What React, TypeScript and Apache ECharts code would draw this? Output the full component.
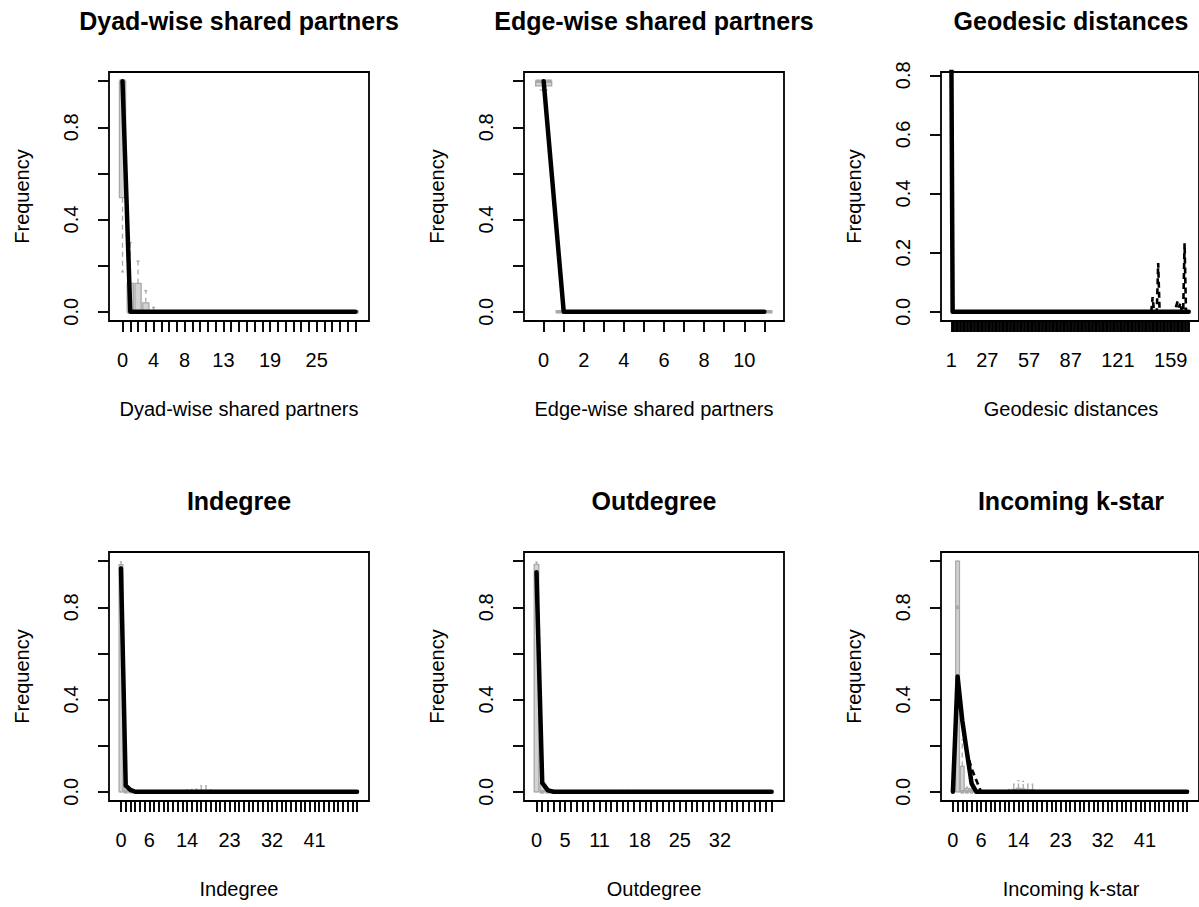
import React, { useEffect, useRef } from "react";
import * as echarts from "echarts";

const FONT = '"Liberation Sans", Arial, Helvetica, sans-serif';

// ---------------------------------------------------------------------------
// Data
// ---------------------------------------------------------------------------

function range(a: number, b: number): number[] {
  const out: number[] = [];
  for (let v = a; v <= b; v++) out.push(v);
  return out;
}

const panelTitles = [
  "Dyad-wise shared partners",
  "Edge-wise shared partners",
  "Geodesic distances",
  "Indegree",
  "Outdegree",
  "Incoming k-star",
];

// x categories (the category value is also its position on the axis)
const dspCategories = range(0, 30);
const espCategories = range(0, 11);
const geodesicCategories = range(1, 172);
const indegreeCategories = range(0, 50);
const outdegreeCategories = range(0, 41);
const kstarCategories = range(0, 50);

// category labels that are printed under the ticks
const dspTickLabels = [0, 4, 8, 13, 19, 25];
const espTickLabels = [0, 2, 4, 6, 8, 10];
const geodesicTickLabels = [1, 27, 57, 87, 121, 159];
const indegreeTickLabels = [0, 6, 14, 23, 32, 41];
const outdegreeTickLabels = [0, 5, 11, 18, 25, 32];
const kstarTickLabels = [0, 6, 14, 23, 32, 41];

// frequency axis ticks / labels
const freqTicks = [0, 0.2, 0.4, 0.6, 0.8, 1.0];
const freqLabels = [0, 0.4, 0.8];
const geoFreqTicks = [0, 0.2, 0.4, 0.6, 0.8];
const geoFreqLabels = [0, 0.2, 0.4, 0.6, 0.8];
const freqMax = 1.0;
const geoFreqMax = 0.78;

// observed network statistics (thick black line)
const dspObserved = [
  1.0, 0, 0, 0, 0, 0, 0, 0, 0, 0,
  0, 0, 0, 0, 0, 0, 0, 0, 0, 0,
  0, 0, 0, 0, 0, 0, 0, 0, 0, 0,
  0,
];
const espObserved = [1.0, 0, 0, 0, 0, 0, 0, 0, 0, 0, 0, 0];
const geodesicObserved = [
  0.95, 0, 0, 0, 0, 0, 0, 0, 0, 0,
  0, 0, 0, 0, 0, 0, 0, 0, 0, 0,
  0, 0, 0, 0, 0, 0, 0, 0, 0, 0,
  0, 0, 0, 0, 0, 0, 0, 0, 0, 0,
  0, 0, 0, 0, 0, 0, 0, 0, 0, 0,
  0, 0, 0, 0, 0, 0, 0, 0, 0, 0,
  0, 0, 0, 0, 0, 0, 0, 0, 0, 0,
  0, 0, 0, 0, 0, 0, 0, 0, 0, 0,
  0, 0, 0, 0, 0, 0, 0, 0, 0, 0,
  0, 0, 0, 0, 0, 0, 0, 0, 0, 0,
  0, 0, 0, 0, 0, 0, 0, 0, 0, 0,
  0, 0, 0, 0, 0, 0, 0, 0, 0, 0,
  0, 0, 0, 0, 0, 0, 0, 0, 0, 0,
  0, 0, 0, 0, 0, 0, 0, 0, 0, 0,
  0, 0, 0, 0, 0, 0, 0, 0, 0, 0,
  0, 0, 0, 0, 0, 0, 0, 0, 0, 0,
  0, 0, 0, 0, 0, 0, 0, 0, 0, 0,
  0, 0,
];
const indegreeObserved = [
  0.968, 0.027, 0.008, 0, 0, 0, 0, 0, 0, 0,
  0, 0, 0, 0, 0, 0, 0, 0, 0, 0,
  0, 0, 0, 0, 0, 0, 0, 0, 0, 0,
  0, 0, 0, 0, 0, 0, 0, 0, 0, 0,
  0, 0, 0, 0, 0, 0, 0, 0, 0, 0,
  0,
];
const outdegreeObserved = [
  0.952, 0.039, 0.006, 0, 0, 0, 0, 0, 0, 0,
  0, 0, 0, 0, 0, 0, 0, 0, 0, 0,
  0, 0, 0, 0, 0, 0, 0, 0, 0, 0,
  0, 0, 0, 0, 0, 0, 0, 0, 0, 0,
  0, 0,
];
const kstarObserved = [
  0, 0.5, 0.31, 0.17, 0.035, 0, 0, 0, 0, 0,
  0, 0, 0, 0, 0, 0, 0, 0, 0, 0,
  0, 0, 0, 0, 0, 0, 0, 0, 0, 0,
  0, 0, 0, 0, 0, 0, 0, 0, 0, 0,
  0, 0, 0, 0, 0, 0, 0, 0, 0, 0,
  0,
];

// simulated median (dashed black line)
const geodesicMedian = [
  0, 0, 0, 0, 0, 0, 0, 0, 0, 0,
  0, 0, 0, 0, 0, 0, 0, 0, 0, 0,
  0, 0, 0, 0, 0, 0, 0, 0, 0, 0,
  0, 0, 0, 0, 0, 0, 0, 0, 0, 0,
  0, 0, 0, 0, 0, 0, 0, 0, 0, 0,
  0, 0, 0, 0, 0, 0, 0, 0, 0, 0,
  0, 0, 0, 0, 0, 0, 0, 0, 0, 0,
  0, 0, 0, 0, 0, 0, 0, 0, 0, 0,
  0, 0, 0, 0, 0, 0, 0, 0, 0, 0,
  0, 0, 0, 0, 0, 0, 0, 0, 0, 0,
  0, 0, 0, 0, 0, 0, 0, 0, 0, 0,
  0, 0, 0, 0, 0, 0, 0, 0, 0, 0,
  0, 0, 0, 0, 0, 0, 0, 0, 0, 0,
  0, 0, 0, 0, 0, 0, 0, 0, 0, 0,
  0, 0, 0, 0, 0, 0.05, 0, 0, 0, 0.165,
  0, 0, 0, 0, 0, 0, 0, 0, 0, 0,
  0, 0, 0.02, 0.035, 0.015, 0.03, 0, 0, 0.232, 0,
  0, 0,
];
const kstarMedian = [
  0, 0.5, 0.31, 0.17, 0.1, 0.05, 0, 0, 0, 0,
  0, 0, 0, 0, 0, 0, 0, 0, 0, 0,
  0, 0, 0, 0, 0, 0, 0, 0, 0, 0,
  0, 0, 0, 0, 0, 0, 0, 0, 0, 0,
  0, 0, 0, 0, 0, 0, 0, 0, 0, 0,
  0,
];

// simulated boxplots: [category, lower whisker, Q1, median, Q3, upper whisker]
// categories not listed have every statistic at 0
const dspBoxes = [
  [0, 0.173, 0.495, 1.0, 1.0, 1.0],
  [1, 0, 0, 0, 0.123, 0.3],
  [2, 0, 0, 0, 0.123, 0.22],
  [3, 0, 0, 0, 0.039, 0.092],
  [4, 0, 0, 0, 0, 0.019],
];
const espBoxes = [[0, 0.962, 0.98, 1.0, 1.0, 1.0]];
const geodesicBoxes: number[][] = [];
const indegreeBoxes = [
  [0, 0, 0, 0.97, 0.985, 0.997],
  [1, 0, 0, 0, 0.03, 0.04],
  [2, 0, 0, 0, 0.008, 0.012],
  [14, 0, 0, 0, 0.002, 0.008],
  [15, 0, 0, 0, 0.002, 0.01],
  [16, 0, 0, 0, 0.003, 0.012],
  [17, 0, 0, 0, 0.005, 0.026],
  [18, 0, 0, 0, 0.005, 0.026],
  [19, 0, 0, 0, 0, 0.008],
];
const outdegreeBoxes = [
  [0, 0, 0, 0.95, 0.986, 0.996],
  [1, 0, 0, 0, 0.04, 0.05],
  [2, 0, 0, 0, 0.01, 0.012],
  [15, 0, 0, 0, 0.002, 0.006],
  [16, 0, 0, 0, 0.002, 0.006],
  [17, 0, 0, 0, 0.002, 0.006],
  [18, 0, 0, 0, 0.002, 0.006],
  [19, 0, 0, 0, 0.002, 0.006],
];
const kstarBoxes = [
  [1, 0, 0, 0.8, 1.0, 1.0],
  [2, 0, 0, 0, 0.11, 0.225],
  [3, 0, 0, 0, 0.015, 0.02],
  [4, 0, 0, 0, 0.012, 0.015],
  [12, 0, 0, 0, 0.003, 0.01],
  [13, 0, 0, 0, 0.01, 0.033],
  [14, 0, 0, 0, 0.015, 0.048],
  [15, 0, 0, 0, 0.012, 0.045],
  [16, 0, 0, 0, 0.008, 0.033],
  [17, 0, 0, 0, 0.008, 0.033],
  [18, 0, 0, 0, 0, 0.005],
];

// ---------------------------------------------------------------------------
// Layout & styling
// ---------------------------------------------------------------------------

const COL_LEFT = [109, 524, 941];
const ROW_TOP = [72, 552];
const PLOT_W = 260;
const PLOT_H = 249;

const BOX_FILL = "#D3D3D3";
const BOX_BORDER = "#A9A9A9";
const BOX_WEX = 0.8;
const STAPLE_WEX = 0.5;

type Panel = {
  title: string;
  cats: number[];
  tickLabels: number[];
  observed: number[];
  median: number[] | null;
  boxes: number[][];
  yMax: number;
  yTicks: number[];
  yLabels: number[];
};

const panels: Panel[] = [
  { title: panelTitles[0], cats: dspCategories, tickLabels: dspTickLabels, observed: dspObserved, median: null, boxes: dspBoxes, yMax: freqMax, yTicks: freqTicks, yLabels: freqLabels },
  { title: panelTitles[1], cats: espCategories, tickLabels: espTickLabels, observed: espObserved, median: null, boxes: espBoxes, yMax: freqMax, yTicks: freqTicks, yLabels: freqLabels },
  { title: panelTitles[2], cats: geodesicCategories, tickLabels: geodesicTickLabels, observed: geodesicObserved, median: geodesicMedian, boxes: geodesicBoxes, yMax: geoFreqMax, yTicks: geoFreqTicks, yLabels: geoFreqLabels },
  { title: panelTitles[3], cats: indegreeCategories, tickLabels: indegreeTickLabels, observed: indegreeObserved, median: null, boxes: indegreeBoxes, yMax: freqMax, yTicks: freqTicks, yLabels: freqLabels },
  { title: panelTitles[4], cats: outdegreeCategories, tickLabels: outdegreeTickLabels, observed: outdegreeObserved, median: null, boxes: outdegreeBoxes, yMax: freqMax, yTicks: freqTicks, yLabels: freqLabels },
  { title: panelTitles[5], cats: kstarCategories, tickLabels: kstarTickLabels, observed: kstarObserved, median: kstarMedian, boxes: kstarBoxes, yMax: freqMax, yTicks: freqTicks, yLabels: freqLabels },
];

function boxItems(cats: number[], stats: number[][]) {
  const byCat = new Map<number, number[]>();
  stats.forEach((s) => byCat.set(s[0], s));
  return cats.map((c) => byCat.get(c) ?? [c, 0, 0, 0, 0, 0]);
}

// R-style boxplot glyph: dashed whiskers, staples, filled box, thick median
function renderBox(_params: any, api: any) {
  const x = api.value(0);
  const lo = api.value(1);
  const q1 = api.value(2);
  const med = api.value(3);
  const q3 = api.value(4);
  const hi = api.value(5);
  const cx = api.coord([x, 0])[0];
  const yLo = api.coord([x, lo])[1];
  const yQ1 = api.coord([x, q1])[1];
  const yMed = api.coord([x, med])[1];
  const yQ3 = api.coord([x, q3])[1];
  const yHi = api.coord([x, hi])[1];
  const w = api.size([BOX_WEX, 0])[0];
  const st = (w * STAPLE_WEX) / 2;
  const dashed = { stroke: BOX_BORDER, lineWidth: 1.3, lineDash: [5, 4], fill: null };
  const solid = { stroke: BOX_BORDER, lineWidth: 1.3, fill: null };
  const children: any[] = [];
  if (q1 > lo) children.push({ type: "line", shape: { x1: cx, y1: yQ1, x2: cx, y2: yLo }, style: dashed });
  if (hi > q3) children.push({ type: "line", shape: { x1: cx, y1: yQ3, x2: cx, y2: yHi }, style: dashed });
  children.push({ type: "line", shape: { x1: cx - st, y1: yLo, x2: cx + st, y2: yLo }, style: solid });
  children.push({ type: "line", shape: { x1: cx - st, y1: yHi, x2: cx + st, y2: yHi }, style: solid });
  children.push({
    type: "rect",
    shape: { x: cx - w / 2, y: yQ3, width: w, height: Math.max(yQ1 - yQ3, 0) },
    style: { fill: BOX_FILL, stroke: BOX_BORDER, lineWidth: 1.3 },
  });
  children.push({
    type: "line",
    shape: { x1: cx - w / 2, y1: yMed, x2: cx + w / 2, y2: yMed },
    style: { stroke: BOX_BORDER, lineWidth: 3.6, fill: null },
  });
  return { type: "group", children };
}

function buildOption() {
  const grid: any[] = [];
  const xAxis: any[] = [];
  const yAxis: any[] = [];
  const series: any[] = [];
  const texts: any[] = [];

  panels.forEach((p, i) => {
    const left = COL_LEFT[i % 3];
    const top = ROW_TOP[Math.floor(i / 3)];
    const n = p.cats.length;
    const first = p.cats[0];
    const last = p.cats[n - 1];
    const pad = 0.04 * n;

    grid.push({ left, top, width: PLOT_W, height: PLOT_H, show: true, borderColor: "#000", borderWidth: 1.8, backgroundColor: "transparent" });

    xAxis.push({
      type: "value",
      gridIndex: i,
      position: "bottom",
      min: first - 0.5 - pad,
      max: last + 0.5 + pad,
      axisLine: { show: false, onZero: false },
      splitLine: { show: false },
      axisTick: { show: true, inside: false, length: 11, customValues: p.cats, lineStyle: { color: "#000", width: 1.9 } },
      axisLabel: {
        show: true,
        customValues: p.tickLabels,
        color: "#000",
        fontSize: 20,
        fontFamily: FONT,
        margin: 29,
        formatter: (v: number) => String(v),
      },
    });

    yAxis.push({
      type: "value",
      gridIndex: i,
      position: "left",
      min: -0.04 * p.yMax,
      max: 1.04 * p.yMax,
      axisLine: { show: false, onZero: false },
      splitLine: { show: false },
      axisTick: { show: true, inside: false, length: 11, customValues: p.yTicks, lineStyle: { color: "#000", width: 1.9 } },
      axisLabel: {
        show: true,
        customValues: p.yLabels,
        rotate: 90,
        color: "#000",
        fontSize: 20,
        fontFamily: FONT,
        margin: 28,
        formatter: (v: number) => v.toFixed(1),
      },
    });

    series.push({
      type: "custom",
      xAxisIndex: i,
      yAxisIndex: i,
      silent: true,
      z: 2,
      encode: { x: 0, y: [1, 2, 3, 4, 5] },
      renderItem: renderBox,
      data: boxItems(p.cats, p.boxes),
    });

    if (p.median) {
      const med = p.median;
      series.push({
        type: "line",
        xAxisIndex: i,
        yAxisIndex: i,
        silent: true,
        z: 3,
        clip: true,
        symbol: "none",
        data: p.cats.map((c, j) => [c, med[j]]),
        lineStyle: { color: "#000", width: 2.6, type: [6, 4] },
      });
    }

    series.push({
      type: "line",
      xAxisIndex: i,
      yAxisIndex: i,
      silent: true,
      z: 4,
      clip: true,
      symbol: "none",
      data: p.cats.map((c, j) => [c, p.observed[j]]),
      lineStyle: { color: "#000", width: 4.5, cap: "round", join: "round" },
    });

    const cx = left + PLOT_W / 2;
    texts.push({
      type: "text",
      x: cx,
      y: top - 51,
      style: { text: p.title, fill: "#000", fontSize: 25, fontWeight: "bold", fontFamily: FONT, align: "center", verticalAlign: "middle", textAlign: "center", textVerticalAlign: "middle" },
    });
    texts.push({
      type: "text",
      x: cx,
      y: top + PLOT_H + 88,
      style: { text: p.title, fill: "#000", fontSize: 20, fontFamily: FONT, align: "center", verticalAlign: "middle", textAlign: "center", textVerticalAlign: "middle" },
    });
    texts.push({
      type: "text",
      x: left - 87,
      y: top + PLOT_H / 2,
      rotation: Math.PI / 2,
      style: { text: "Frequency", fill: "#000", fontSize: 20, fontFamily: FONT, align: "center", verticalAlign: "middle", textAlign: "center", textVerticalAlign: "middle" },
    });
  });

  return {
    animation: false,
    backgroundColor: "#fff",
    grid,
    xAxis,
    yAxis,
    series,
    graphic: { elements: texts },
  };
}

export default function App() {
  const ref = useRef<HTMLDivElement>(null);
  useEffect(() => {
    if (!ref.current) return;
    const chart = echarts.init(ref.current, undefined, { renderer: "svg" });
    chart.setOption(buildOption() as any);
    return () => chart.dispose();
  }, []);
  return (
    <div
      ref={ref}
      style={{ position: "absolute", left: 0, top: 0, width: 1199, height: 907, background: "#fff" }}
    />
  );
}
